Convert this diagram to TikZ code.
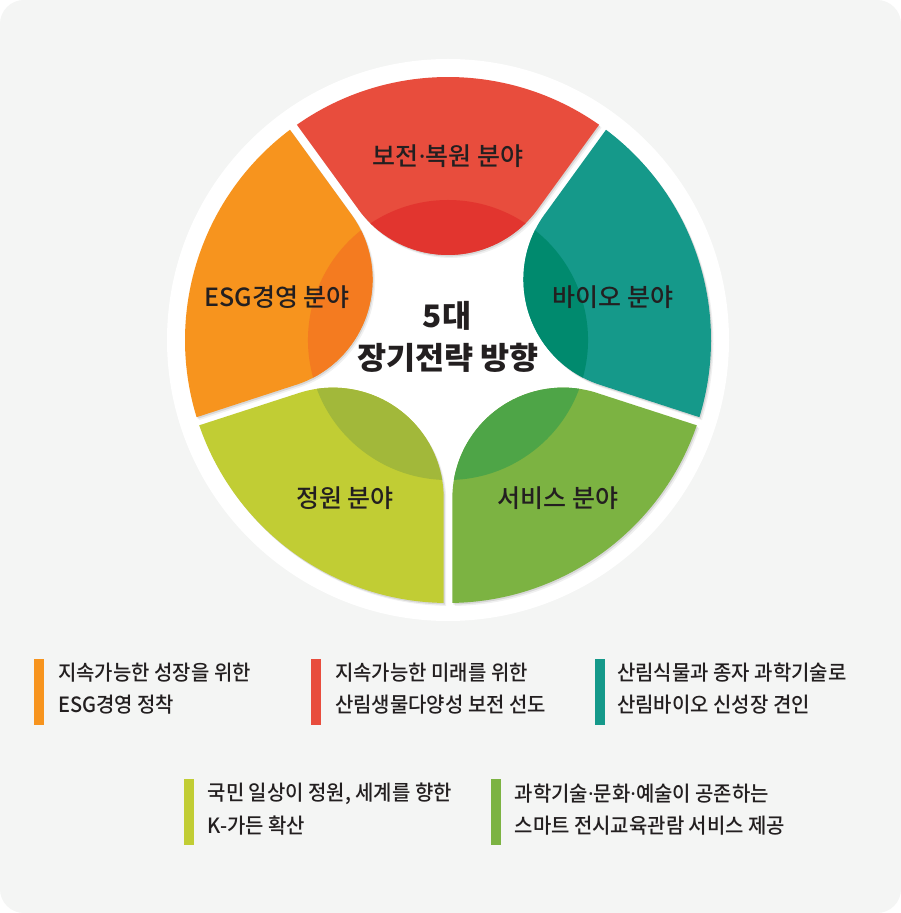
\documentclass[tikz,border=0pt]{standalone}
\usepackage{fontspec}
\IfFontExistsTF{Noto Sans CJK KR Medium}{%
  \newfontfamily\krleg[FakeStretch=0.95]{Noto Sans CJK KR Medium}
  \newfontfamily\krlab[FakeStretch=1.0]{Noto Sans CJK KR Medium}
}{%
  \newfontfamily\krleg[FakeStretch=0.95]{Noto Sans CJK KR}
  \newfontfamily\krlab[FakeStretch=1.0]{Noto Sans CJK KR}
}
\IfFontExistsTF{Noto Sans CJK KR Black}{%
  \newfontfamily\krttl[FakeStretch=1.02]{Noto Sans CJK KR Black}
}{%
  \newfontfamily\krttl[FakeStretch=1.02,FakeBold=0.6]{Noto Sans CJK KR Bold}
}
\newfontfamily\latn{Noto Sans}
\newcommand\mdot{{\latn\bfseries ·}}
\definecolor{bgc}{HTML}{F4F5F4}
\definecolor{redA}{HTML}{E84D3D}
\definecolor{redB}{HTML}{E2352F}
\definecolor{orA}{HTML}{F7941E}
\definecolor{orB}{HTML}{F47B20}
\definecolor{teA}{HTML}{15998A}
\definecolor{teB}{HTML}{008A6E}
\definecolor{ygA}{HTML}{C1CD34}
\definecolor{ygB}{HTML}{A2B83A}
\definecolor{grA}{HTML}{7CB342}
\definecolor{grB}{HTML}{4EA547}
\definecolor{txt}{HTML}{231F20}
\newcommand\petal[3]{%
  \begin{scope}[shift={(450.5,570)},rotate=#1]
    \fill[black,opacity=.06] (-89.6,130.7) -- (125.07:263) arc[start angle=125.07,end angle=54.93,radius=263] -- (89.6,130.7) arc[start angle=-36,end angle=-144,radius=110.8] -- cycle;
  \end{scope}
  \begin{scope}[shift={(449.2,571.4)},rotate=#1]
    \fill[black,opacity=.10] (-89.6,130.7) -- (125.07:263) arc[start angle=125.07,end angle=54.93,radius=263] -- (89.6,130.7) arc[start angle=-36,end angle=-144,radius=110.8] -- cycle;
  \end{scope}
  \begin{scope}[shift={(448,573)},rotate=#1]
    \fill[#2] (-89.6,130.7) -- (125.07:263) arc[start angle=125.07,end angle=54.93,radius=263] -- (89.6,130.7) arc[start angle=-36,end angle=-144,radius=110.8] -- cycle;
    \begin{scope}
      \clip (-89.6,130.7) -- (125.07:263) arc[start angle=125.07,end angle=54.93,radius=263] -- (89.6,130.7) arc[start angle=-36,end angle=-144,radius=110.8] -- cycle;
      \fill[#3] (0,0) circle (140);
    \end{scope}
  \end{scope}}
\tikzset{
  lab/.style={font=\krlab\fontsize{25}{29}\selectfont, text=txt, inner sep=0pt},
  ttl/.style={font=\krttl\fontsize{31}{35}\selectfont, text=txt, inner sep=0pt},
  leg/.style={font=\krleg\fontsize{21}{25}\selectfont, text=txt, inner sep=0pt, anchor=west}
}
\begin{document}
\begin{tikzpicture}[x=1pt,y=1pt]
\useasboundingbox (0,0) rectangle (901,913);
\fill[white] (0,0) rectangle (901,913);
\fill[bgc, rounded corners=24pt] (0,0) rectangle (901,913);
% white disc
\fill[white] (448,573) circle (281);
% petals
\petal{0}{redA}{redB}
\petal{-72}{teA}{teB}
\petal{-144}{grA}{grB}
\petal{144}{ygA}{ygB}
\petal{72}{orA}{orB}
% petal labels
\node[lab] (lred) at (448,757) {보전\mdot 복원 분야};
\node[lab] (lor) at (277,616) {ESG경영 분야};
\node[lab] (lte) at (613,616) {바이오 분야};
\node[lab] (lyg) at (345,415) {정원 분야};
\node[lab] (lgr) at (558,415) {서비스 분야};
% title
\node[ttl] (t1) at (447,597) {5대};
\node[ttl] (t2) at (448,555) {장기전략 방향};
% legend bars
\fill[orA] (34,188) rectangle ++(9.5,66);
\fill[redA] (311,188) rectangle ++(9.5,66);
\fill[teA] (595,188) rectangle ++(9.5,66);
\fill[ygA] (184,68) rectangle ++(9.5,66);
\fill[grA] (491,68) rectangle ++(9.5,66);
% legend texts
\node[leg] (a1) at (58,240) {지속가능한 성장을 위한};
\node[leg] (a2) at (58,208.5) {ESG경영 정착};
\node[leg] (b1) at (335,240) {지속가능한 미래를 위한};
\node[leg] (b2) at (335,208.5) {산림생물다양성 보전 선도};
\node[leg] (c1) at (617,240) {산림식물과 종자 과학기술로};
\node[leg] (c2) at (617,208.5) {산림바이오 신성장 견인};
\node[leg] (d1) at (207.5,119) {국민 일상이 정원, 세계를 향한};
\node[leg] (d2) at (207.5,87.5) {K-가든 확산};
\node[leg] (e1) at (514.5,119) {과학기술\mdot 문화\mdot 예술이 공존하는};
\node[leg] (e2) at (514.5,87.5) {스마트 전시교육관람 서비스 제공};
\end{tikzpicture}
\end{document}
